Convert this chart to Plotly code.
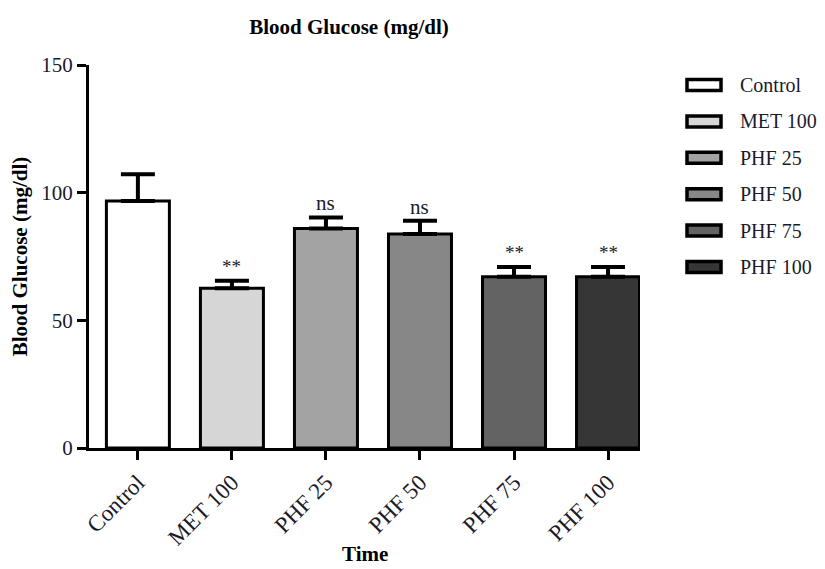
import plotly.graph_objects as go

categories = ["Control", "MET 100", "PHF 25", "PHF 50", "PHF 75", "PHF 100"]
means = [96.7, 62.6, 86.0, 83.8, 67.1, 67.1]
sem = [10.5, 2.9, 4.3, 5.2, 3.8, 3.8]
significance = ["", "**", "ns", "ns", "**", "**"]
colors = ["#ffffff", "#d6d6d6", "#a3a3a3", "#878787", "#636363", "#363636"]
y_ticks = [0, 50, 100, 150]

FONT = "Liberation Serif"
TXT = "#1a1a2a"

# the page body has an 8px margin, so shift the layout to compensate
OFF = 8
W, H = 825, 569
PL, PR, PT, PB = 89, 640, 65, 448   # plot area in screen pixels

fig = go.Figure()
for cat, m, e, c in zip(categories, means, sem, colors):
    fig.add_trace(go.Bar(
        x=[cat], y=[m], width=0.67, name=cat, showlegend=False,
        marker=dict(color=c, line=dict(color="black", width=3)),
        error_y=dict(type="data", symmetric=False, array=[e], arrayminus=[0],
                     color="black", thickness=4, width=17),
    ))

annotations = []
for cat, m, e, s in zip(categories, means, sem, significance):
    if s:
        annotations.append(dict(
            x=cat, y=m + e, xref="x", yref="y", text=s, showarrow=False,
            yanchor="bottom", yshift=0 if s == "ns" else 2,
            font=dict(family=FONT, size=21 if s == "ns" else 19, color=TXT)))

# custom legend (boxes + labels)
shapes = []
top_px = 85
step_px = 36.4
pw, ph = PR - PL, PB - PT
for i, (cat, c) in enumerate(zip(categories, colors)):
    yc = top_px + i * step_px
    shapes.append(dict(type="rect", xref="paper", yref="paper",
                       x0=(687 - PL) / pw, x1=(721 - PL) / pw,
                       y0=(PB - (yc + 5.5)) / ph, y1=(PB - (yc - 5.5)) / ph,
                       fillcolor=c, line=dict(color="black", width=3.5)))
    annotations.append(dict(xref="paper", yref="paper",
                            x=(738 - PL) / pw, y=(PB - yc) / ph,
                            text=cat, showarrow=False, xanchor="left", yanchor="middle",
                            font=dict(family=FONT, size=20, color=TXT)))

# x-axis title as annotation
annotations.append(dict(xref="paper", yref="paper", x=0.5, y=(PB - 554) / ph,
                        text="<b>Time</b>", showarrow=False, xanchor="center", yanchor="middle",
                        font=dict(family=FONT, size=21, color="black")))

fig.update_layout(
    width=W, height=H,
    margin=dict(l=PL - OFF, r=W - (PR - OFF), t=PT - OFF, b=H - (PB - OFF), autoexpand=False),
    paper_bgcolor="white", plot_bgcolor="white",
    barmode="overlay",
    title=dict(text="<b>Blood Glucose (mg/dl)</b>", x=(349 - PL) / pw, xref="paper",
               xanchor="center", y=1 - (27 - OFF) / H, yref="container", yanchor="middle",
               font=dict(family=FONT, size=21, color="black")),
    annotations=annotations,
    shapes=shapes,
    font=dict(family=FONT, color=TXT),
)
fig.update_xaxes(
    categoryorder="array", categoryarray=categories,
    range=[-0.52, 5.34], showline=True, linecolor="black", linewidth=3,
    ticks="outside", ticklen=9, tickwidth=3, tickcolor="black",
    tickangle=-45, tickfont=dict(family=FONT, size=23, color=TXT),
    showgrid=False, zeroline=False,
)
fig.update_yaxes(
    range=[0, 150], tickvals=y_ticks, showline=True, linecolor="black", linewidth=3,
    ticks="outside", ticklen=9, tickwidth=3, tickcolor="black",
    tickfont=dict(family=FONT, size=21, color=TXT),
    title=dict(text="<b>Blood Glucose (mg/dl)</b>", font=dict(family=FONT, size=21, color="black"), standoff=10),
    showgrid=False, zeroline=False,
)

fig.write_html("out.html")
